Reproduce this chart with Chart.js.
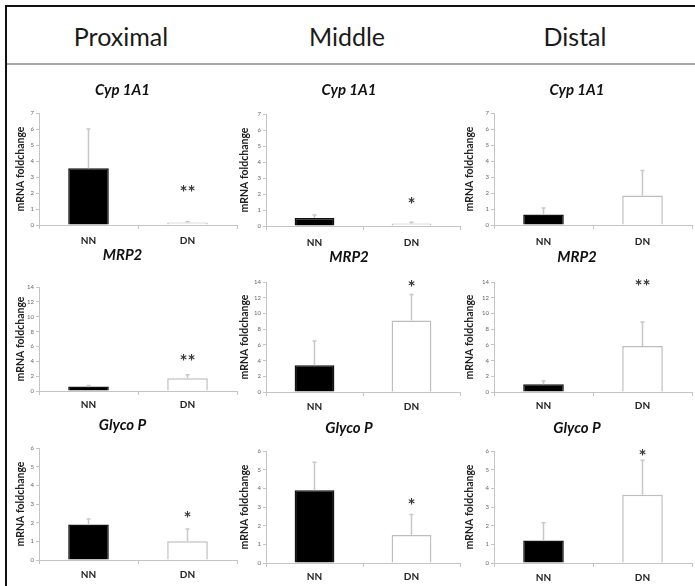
<!DOCTYPE html>
<html>
<head>
<meta charset="utf-8">
<script src="https://cdn.jsdelivr.net/npm/chart.js@4.4.0/dist/chart.umd.min.js"></script>
<style>
  html, body { margin: 0; padding: 0; background: #fff; }
  #figure { position: relative; width: 695px; height: 586px; overflow: hidden; font-family: Lato, "Open Sans", sans-serif; }
  .frame-top { position: absolute; left: 5px; top: 5px; width: 690px; height: 2px; background: #111; }
  .frame-left { position: absolute; left: 5px; top: 5px; width: 2px; height: 581px; background: #111; }
  .rule { position: absolute; left: 7px; top: 63px; width: 688px; height: 2px; background: #a8a8a8; }
  .region { position: absolute; top: 21px; width: 200px; margin-left: -100px; text-align: center; font-size: 25px; line-height: 30px; color: #1a1a1a; }
  canvas { position: absolute; }
</style>
</head>
<body>
<div id="figure">
  <div class="frame-top"></div>
  <div class="frame-left"></div>
  <div class="rule"></div>
</div>
<script>
const groups = ['NN', 'DN'];
const regions = ['Proximal', 'Middle', 'Distal'];
const genes = ['Cyp 1A1', 'MRP2', 'Glyco P'];
const yMax = [7, 14, 6];
const yStep = [1, 2, 1];

// mean foldchange per region as [NN, DN], error bars are upper SD only
const cypMean = [[3.55, 0.15], [0.5, 0.15], [0.65, 1.85]];
const cypSD = [[2.45, 0.05], [0.18, 0.08], [0.42, 1.55]];
const cypStars = [['', '**'], ['', '*'], ['', '']];
const cypStarAt = [[0, 2.25], [0, 1.6], [0, 0]];

const mrpMean = [[0.6, 1.7], [3.4, 9.1], [1.0, 5.85]];
const mrpSD = [[0.15, 0.5], [3.1, 3.3], [0.4, 3.05]];
const mrpStars = [['', '**'], ['', '*'], ['', '**']];
const mrpStarAt = [[0, 4.4], [0, 13.7], [0, 13.9]];

const glycoMean = [[1.9, 1.0], [3.9, 1.5], [1.2, 3.65]];
const glycoSD = [[0.3, 0.66], [1.5, 1.1], [0.95, 1.85]];
const glycoStars = [['', '*'], ['', '*'], ['', '*']];
const glycoStarAt = [[0, 2.4], [0, 3.3], [0, 5.9]];

const means = [cypMean, mrpMean, glycoMean];
const sds = [cypSD, mrpSD, glycoSD];
const stars = [cypStars, mrpStars, glycoStars];
const starAt = [cypStarAt, mrpStarAt, glycoStarAt];

// panel placement on the page
const cols = [
  {x: 8, w: 230, axisW: 31, titlePad: 6.7, padRight: 1, center: 121},
  {x: 238, w: 224, axisW: 28, titlePad: 0.7, padRight: 2, center: 347},
  {x: 462, w: 233, axisW: 32, titlePad: 1.7, padRight: 3, center: 575}
];
const rowTop = [66, 246, 414];
const rowBottom = [246, 414, 586];
// [title y, plot top, plot bottom, label y]
const boxes = [
  [[90, 113, 225, 241], [90, 114, 226, 243], [90, 113, 225, 242]],
  [[255, 287, 391, 405], [257, 282, 392, 407], [257, 282, 392, 406]],
  [[425, 448, 560, 575], [428, 451, 563, 577], [428, 451, 563, 578]]
];

const axisGray = '#c4c4c4';

const errorBarPlugin = {
  id: 'errorBars',
  afterDatasetsDraw(chart, args, opts) {
    const {ctx} = chart;
    const y = chart.scales.y;
    const meta = chart.getDatasetMeta(0);
    const values = chart.data.datasets[0].data;
    ctx.save();
    ctx.strokeStyle = '#c8c8c8';
    ctx.lineWidth = 1.5;
    meta.data.forEach((bar, i) => {
      const top = y.getPixelForValue(values[i] + opts.sd[i]);
      ctx.beginPath();
      ctx.moveTo(bar.x, bar.y);
      ctx.lineTo(bar.x, top);
      ctx.moveTo(bar.x - 2, top);
      ctx.lineTo(bar.x + 2, top);
      ctx.stroke();
    });
    // significance marks above the bars
    ctx.fillStyle = '#3a3a3a';
    ctx.font = 'bold 19px Lato';
    ctx.textAlign = 'center';
    ctx.textBaseline = 'middle';
    meta.data.forEach((bar, i) => {
      if (!opts.stars[i]) return;
      ctx.fillText(opts.stars[i], bar.x, y.getPixelForValue(opts.starAt[i]) + 4);
    });
    ctx.restore();
  }
};

function makePanel(g, r) {
  const col = cols[r];
  const [titleY, plotTop, plotBottom, labelY] = boxes[g][r];
  const top = rowTop[g];
  const h = rowBottom[g] - top;

  const canvas = document.createElement('canvas');
  canvas.width = col.w;
  canvas.height = h;
  canvas.style.left = col.x + 'px';
  canvas.style.top = top + 'px';
  canvas.style.width = col.w + 'px';
  canvas.style.height = h + 'px';
  document.getElementById('figure').appendChild(canvas);

  new Chart(canvas, {
    type: 'bar',
    data: {
      labels: groups,
      datasets: [{
        data: means[g][r],
        backgroundColor: ['#000', '#fff'],
        borderColor: ['#111', '#bdbdbd'],
        borderWidth: 1.5,
        barPercentage: 0.41,
        categoryPercentage: 1
      }]
    },
    options: {
      responsive: false,
      animation: false,
      devicePixelRatio: 1,
      layout: {padding: {left: 0, top: 0, bottom: 0, right: col.padRight}},
      plugins: {
        legend: {display: false},
        tooltip: {enabled: false},
        title: {
          display: true,
          text: genes[g],
          color: '#111',
          font: {family: 'Lato', size: 15, weight: 'bold', style: 'italic', lineHeight: 1.2},
          padding: {top: titleY - 9 - top, bottom: plotTop - titleY - 9}
        },
        errorBars: {sd: sds[g][r], stars: stars[g][r], starAt: starAt[g][r]}
      },
      scales: {
        x: {
          grid: {drawOnChartArea: false, drawTicks: true, tickLength: 4, color: axisGray, offset: true},
          border: {color: axisGray, width: 1},
          ticks: {
            color: '#222',
            padding: labelY - plotBottom - 4 - 6,
            font: {family: 'Lato', size: 10, weight: 'bold', lineHeight: 1.2}
          },
          afterFit: scale => { scale.height = rowBottom[g] - plotBottom; }
        },
        y: {
          min: 0,
          max: yMax[g],
          grid: {drawOnChartArea: false, drawTicks: true, tickLength: 3, color: axisGray},
          border: {color: axisGray, width: 1},
          ticks: {
            stepSize: yStep[g],
            color: '#666',
            padding: 2,
            font: {family: 'Lato', size: 6, lineHeight: 1.2}
          },
          title: {
            display: true,
            text: 'mRNA foldchange',
            color: '#222',
            font: {family: 'Lato', size: 10.5, weight: 'bold', lineHeight: 1.2},
            padding: {top: col.titlePad, bottom: 0}
          },
          afterFit: scale => { scale.width = col.axisW; }
        }
      }
    },
    plugins: [errorBarPlugin]
  });
}

(async function () {
  try { await document.fonts.load('bold italic 15px Lato'); } catch (e) {}

  regions.forEach((name, r) => {
    const div = document.createElement('div');
    div.className = 'region';
    div.style.left = cols[r].center + 'px';
    div.textContent = name;
    document.getElementById('figure').appendChild(div);
  });

  genes.forEach((gene, g) => {
    regions.forEach((region, r) => makePanel(g, r));
  });
})();
</script>
</body>
</html>
